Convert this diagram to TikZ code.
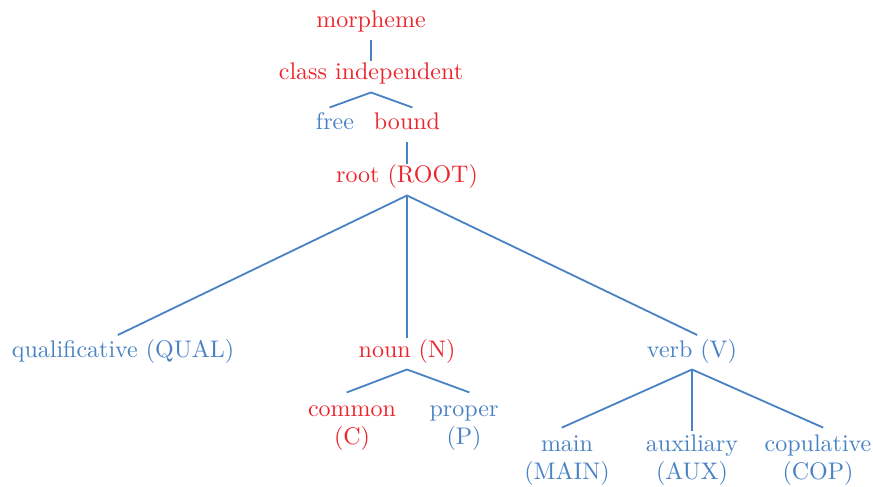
\documentclass[tikz,border=0pt]{standalone}
\usepackage{xcolor}
\definecolor{tred}{RGB}{236,36,44}
\definecolor{tblue}{RGB}{72,130,196}
\newcommand{\firstline}{\vphantom{(}}
\begin{document}
\begin{tikzpicture}[x=0.4167pt,y=-0.4167pt,
  lab/.style={inner xsep=0pt,inner ysep=3pt,text height=7pt,text depth=2pt,font=\fontsize{10}{12}\selectfont},
  twolab/.style={inner xsep=0pt,inner ysep=3pt,align=center,font=\fontsize{10}{12}\selectfont},
  rd/.style={lab,text=tred},
  bl/.style={lab,text=tblue},
  rdtwo/.style={twolab,text=tred},
  bltwo/.style={twolab,text=tblue},
  edge/.style={draw=tblue,line width=0.75pt,shorten >=-2.4pt}]
\useasboundingbox (0,0) rectangle (873,486);
\node[rd] (morph) at (371,22) {morpheme};
\node[rd] (classind) at (371,74) {class independent};
\node[bl] (free) at (335,124) {free};
\node[rd] (bound) at (407,124) {bound};
\node[rd] (root) at (407,177) {root (ROOT)};
\node[bl] (qual) at (123,351) {qualificative (QUAL)};
\node[rd] (noun) at (407,351) {noun (N)};
\node[bl] (verb) at (692,351) {verb (V)};
\node[rdtwo] (common) at (352,424.5) {\firstline common\\(C)};
\node[bltwo] (proper) at (464,424.5) {\firstline proper\\(P)};
\node[bltwo] (main) at (567,459.4) {\firstline main\\(MAIN)};
\node[bltwo] (aux) at (692,459.4) {\firstline auxiliary\\(AUX)};
\node[bltwo] (cop) at (818,459.4) {\firstline copulative\\(COP)};
\draw[edge] (morph.south) -- (classind.north);
\draw[edge] (classind.south) -- (free.north);
\draw[edge] (classind.south) -- (bound.north);
\draw[edge] (bound.south) -- (root.north);
\draw[edge] (root.south) -- (qual.north);
\draw[edge] (root.south) -- (noun.north);
\draw[edge] (root.south) -- (verb.north);
\draw[edge] (noun.south) -- (common.north);
\draw[edge] (noun.south) -- (proper.north);
\draw[edge] (verb.south) -- (main.north);
\draw[edge] (verb.south) -- (aux.north);
\draw[edge] (verb.south) -- (cop.north);
\end{tikzpicture}
\end{document}
